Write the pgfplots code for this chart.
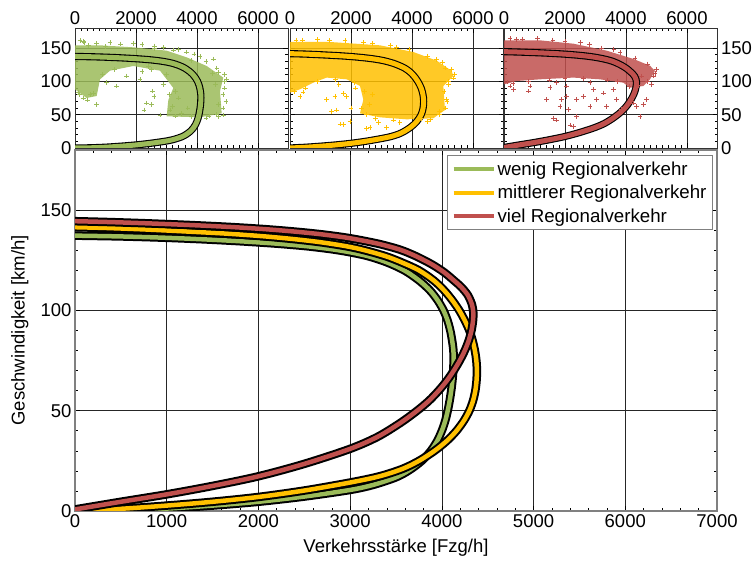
\documentclass[border=0pt]{standalone}
\usepackage{fontspec}
\setmainfont{Liberation Sans}
\usepackage{pgfplots}
\usepackage{pgfplotstable}
\pgfplotsset{compat=1.18}
\definecolor{cG}{HTML}{9BBB59}
\definecolor{cO}{HTML}{FFC000}
\definecolor{cR}{HTML}{C0504D}

\pgfplotstableread{
q v
0 0
500 0.3
1000 1.2
1500 2.7
2000 4.6
2500 7.2
3000 10.5
3250 13
3500 16.8
3650 20.5
3780 25
3880 30
3950 35
4000 40
4037 45
4064 50
4085 55
4102 60
4115 65
4124 70
4128 75
4126 80
4112 85
4092 90
4062 95
4018 100
3955 105
3870 110
3750 115
3590 120
3400 124
3200 127
3000 129
2800 130.5
2530 132
2200 133.3
1800 134.5
1380 135.5
950 136.3
500 136.9
0 137.3
}\curveG

\pgfplotstableread{
q v
0 0
500 1.1
1000 2.7
1500 4.6
2000 7
2500 10.2
3000 14.2
3320 17.3
3570 21
3750 25
3920 30
4055 35
4160 40
4240 45
4300 50
4340 55
4365 60
4378 65
4382 70
4376 75
4360 80
4335 85
4300 90
4250 95
4190 100
4115 105
4025 110
3910 115
3750 120
3560 124
3390 127
3160 130
2960 132
2680 134
2400 135.5
2050 137
1650 138.3
1200 139.4
750 140.4
350 141.1
0 141.5
}\curveO

\pgfplotstableread{
q v
0 0.8
500 4.6
1000 8.3
1500 12.5
2000 17.3
2500 23.5
3000 31
3300 37
3550 44
3730 50
3860 55
3965 60
4055 65
4130 70
4195 75
4250 80
4293 85
4323 90
4340 95
4343 99
4328 103
4285 107.5
4215 111.5
4130 115
4025 119
3890 123
3720 127
3544 130.3
3330 133
3120 135
2930 136.5
2680 138
2400 139.3
2080 140.5
1700 141.6
1250 142.6
750 143.5
350 144.1
0 144.5
}\curveR

\pgfplotstableread{
q v
0 154
820 154
1913 151
3005 146
3661 136
4317 123
4863 105.6
4754 85
4809 52
4098 46
3005 47.5
3060 72
3224 90
2787 116
1913 123
1148 116
820 103
710 78
380 75
0 88
}\cloudG

\pgfplotstableread{
q v
164 161.5
437 154
273 160
1148 158
1913 156.5
2600 153
3224 147
3661 143.8
4100 137
4536 133.6
4700 113.3
4973 103
4900 110
4863 49.6
4850 60
4700 47
4300 45
3800 47
3300 48
2787 49.6
3115 57
2262 57
2514 65
2590 77.6
2350 67.5
2546 85.2
710 65
273 75
492 80
100 83
1366 92.8
1038 98
2131 103
1694 108
2900 95
3100 80
900 110
300 158
700 157
1500 156
2200 155
2900 151
3400 148
3900 141
4300 130
4650 120
4900 100
4850 80
4950 70
4900 90
4650 50
4400 48
3500 52
3200 62
3300 85
3000 110
2500 118
2200 115
150 80
600 82
400 72
1000 152
2600 149
3800 131
4500 112
4600 95
4700 65
3700 60
3400 75
2400 122
1300 118
}\scatG

\pgfplotstableread{
q v
0 159
1311 159
2951 154
4044 144
4809 131
5301 115.7
5355 108
5027 93
5082 57
4700 44.6
3825 43
2951 46
2295 52
2404 72.5
2295 93
1858 103
1202 105.6
765 98
328 88
0 83
}\cloudO

\pgfplotstableread{
q v
328 77.6
430 84
1202 72.5
1475 77.6
1366 54.7
1530 57
1639 36
1750 35
1967 39.4
1858 77.6
1750 82
2514 29.3
2620 30.5
3170 30.5
2900 38
4500 40
4900 55
5137 72.5
5190 95
5355 105
4809 133
4500 137
5100 120
200 162
900 163
1800 161
2700 157
3500 151
2000 60
2150 90
1600 95
3600 38
4200 41
400 162
1300 161
2400 158
3300 154
3900 148
4500 138
5000 128
5300 118
5400 110
5200 100
5050 85
5150 70
5100 60
4900 50
4600 43
4300 44
3400 42
2800 44
2500 50
2350 60
2450 85
2100 98
1500 103
900 100
500 90
150 85
2600 65
2700 80
}\scatO

\pgfplotstableread{
q v
0 161.5
1180 161.5
2273 156.5
3366 146
4240 133.6
4787 123.4
4951 115.7
4787 103
4568 93
4131 90.4
3913 98
3148 103
2273 105.6
1180 103
415 100.5
0 95.4
}\cloudR

\pgfplotstableread{
q v
197 164
600 163.5
1100 164
798 85.2
1400 72.5
1508 90.4
1617 44.6
1727 42
1891 72.5
1836 62.3
2055 77.6
2109 57.3
2164 34.4
2273 31.8
2383 47
2055 92.8
2383 72.5
2601 77.6
2820 62.3
2929 87.8
3038 72.5
3257 82.7
3367 62.3
3585 87.8
3694 72.5
3858 57.3
4131 72.5
4240 67.5
4350 62.3
4459 47
4568 64.9
4678 72.5
4842 95.4
4514 108
2820 98
1727 98
852 92.8
197 92.8
306 87.8
4950 112
2500 158
3600 148
400 163
1600 162
2000 160
2800 155
3200 150
3800 143
4300 135
4700 126
5000 118
4900 108
4700 100
4400 94
4100 92
3700 100
3400 102
2600 104
2000 104
1500 102
800 100
300 97
100 99
}\scatR

\pgfplotsset{
  common/.style={
    scale only axis,
    xmin=0, xmax=7000, ymin=0, ymax=180,
    ytick={0,50,100,150},
    minor y tick num=4,
    grid=major,
    major grid style={black!85, line width=0.6bp},
    tick align=inside,
    major tick length=5bp, minor tick length=3bp,
    every tick/.style={black, line width=0.6bp},
    scaled ticks=false,
    /pgf/number format/1000 sep={},
    /pgf/number format/assume math mode=true,
    tick label style={font=\fontsize{18.5bp}{20bp}\selectfont},
  },
  inset/.style={
    common,
    width=213.5bp, height=120bp,
    xtick={0,2000,4000,6000},
    minor x tick num=9,
    xticklabel pos=upper,
    axis line style={black!80, line width=0.8bp},
  },
  blk/.style={black, line width=8.5bp, smooth, tension=0.5},
  col/.style={#1, line width=4.5bp, smooth, tension=0.5},
  iblk/.style={black, line width=7.2bp, smooth, tension=0.5},
  icol/.style={#1, line width=5bp, smooth, tension=0.5},
}

\begin{document}
\begin{tikzpicture}
\useasboundingbox (0,0) rectangle (756bp,561bp);

% main axis
\begin{axis}[common,
  at={(75bp,50bp)}, anchor=south west,
  width=642bp, height=361bp,
  xtick={0,1000,...,7000},
  minor x tick num=4,
  axis line style={gray, line width=1.2bp},
  xlabel={Verkehrsstärke [Fzg/h]},
  ylabel={Geschwindigkeit [km/h]},
  label style={font=\fontsize{18.5bp}{20bp}\selectfont},
  xlabel style={at={(axis description cs:0.5,-0.102)}, anchor=center},
  ylabel style={at={(axis description cs:-0.086,0.5)}, anchor=center},
  legend style={at={(axis description cs:0.9938,0.986)}, anchor=north east,
    draw=gray, line width=1.2bp, fill=white,
    font=\fontsize{18.7bp}{21bp}\selectfont,
    row sep=4.5bp, inner xsep=4bp, inner ysep=4bp},
  legend cell align=left,
  legend image code/.code={\draw[#1, line width=4bp] (0bp,0bp) -- (40bp,0bp);},
]
\addplot[blk, forget plot] table {\curveG};
\addplot[col=cG, forget plot] table {\curveG};
\addplot[blk, forget plot] table {\curveO};
\addplot[col=cO, forget plot] table {\curveO};
\addplot[blk, forget plot] table {\curveR};
\addplot[col=cR, forget plot] table {\curveR};
\addlegendimage{cG}\addlegendentry{wenig Regionalverkehr}
\addlegendimage{cO}\addlegendentry{mittlerer Regionalverkehr}
\addlegendimage{cR}\addlegendentry{viel Regionalverkehr}
\end{axis}

% inset 1
\begin{axis}[inset, at={(75bp,413bp)}, anchor=south west]
\addplot[fill=cG, draw=none, fill opacity=0.85] table {\cloudG};
\addplot[only marks, mark=+, mark size=2.3bp, cG, line width=0.7bp] table {\scatG};
\addplot[iblk] table {\curveG};
\addplot[icol=cG] table {\curveG};
\end{axis}

% inset 2
\begin{axis}[inset, at={(290bp,413bp)}, anchor=south west, yticklabels={}]
\addplot[fill=cO, draw=none, fill opacity=0.85] table {\cloudO};
\addplot[only marks, mark=+, mark size=2.3bp, cO, line width=0.7bp] table {\scatO};
\addplot[iblk] table {\curveO};
\addplot[icol=cO] table {\curveO};
\end{axis}

% inset 3
\begin{axis}[inset, at={(504bp,413bp)}, anchor=south west, yticklabel pos=right]
\addplot[fill=cR, draw=none, fill opacity=0.85] table {\cloudR};
\addplot[only marks, mark=+, mark size=2.3bp, cR, line width=0.7bp] table {\scatR};
\addplot[iblk] table {\curveR};
\addplot[icol=cR] table {\curveR};
\end{axis}
\end{tikzpicture}
\end{document}
